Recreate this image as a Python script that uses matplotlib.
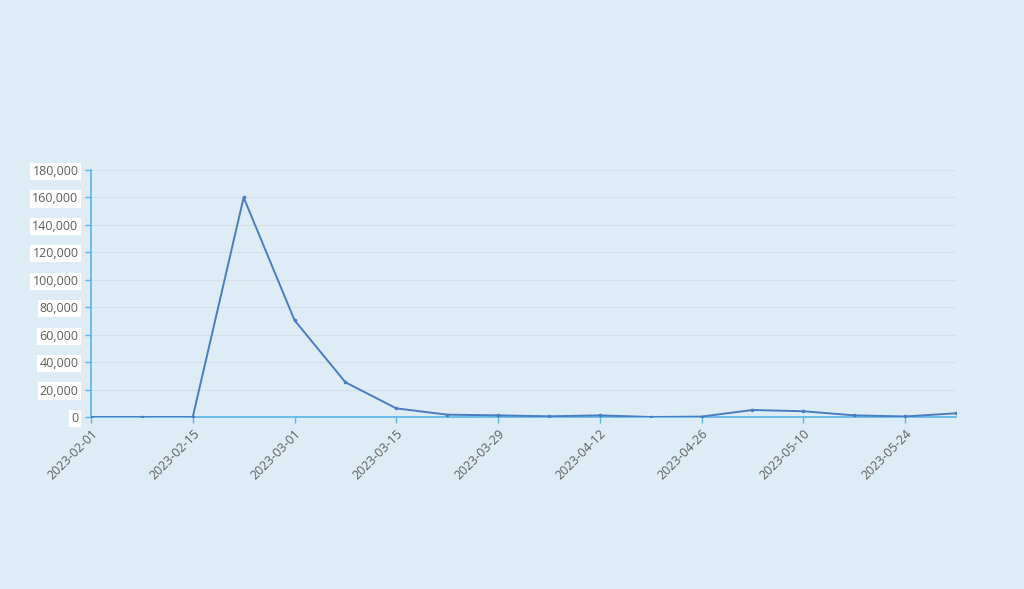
import matplotlib
matplotlib.use("Agg")
import matplotlib.pyplot as plt
import matplotlib.dates as mdates
import matplotlib.ticker as mticker
import numpy as np
import pandas as pd

dates = pd.date_range("2023-02-01", "2023-05-31", freq="7D")
values = [0, 0, 0, 160000, 70500, 25300, 6300, 1700, 1200, 500, 1200, 0,
          300, 5100, 4200, 1200, 400, 2700]
tick_dates = pd.date_range("2023-02-01", "2023-05-24", freq="14D")

bg = "#deedf5"
plt.rcParams['font.family'] = ['Open Sans', 'DejaVu Sans']

fig = plt.figure(figsize=(10.24, 5.89), dpi=100, facecolor=bg)
ax = fig.add_axes([91/1024, 1-417/589, (956-91)/1024, (417-170)/589])
ax.set_facecolor(bg)

ax.plot(dates, values, color="#4a7cc0", lw=1.4, marker="o", ms=1.6, zorder=3)

ax.set_xlim(dates[0], dates[-1])
ax.set_ylim(0, 180000)
ax.yaxis.set_major_locator(mticker.MultipleLocator(20000))
ax.yaxis.set_major_formatter(mticker.FuncFormatter(lambda v, p: f"{int(v):,}"))
ax.set_xticks(tick_dates)
ax.xaxis.set_major_formatter(mdates.DateFormatter("%Y-%m-%d"))

ax.grid(axis="y", color="#d5dfe6", lw=0.8)
ax.set_axisbelow(True)
for s in ["top", "right"]:
    ax.spines[s].set_visible(False)
for s in ["left", "bottom"]:
    ax.spines[s].set_color("#5ab4e5")
    ax.spines[s].set_linewidth(1.2)

ax.tick_params(axis="both", colors="#5ab4e5", length=4, width=1, labelcolor="#5f5f5f", labelsize=9)
ax.tick_params(axis="y", pad=5)
ax.tick_params(axis="x", pad=3)
for lbl in ax.get_yticklabels():
    lbl.set_bbox(dict(facecolor="white", edgecolor="none", pad=1.5))
for lbl in ax.get_xticklabels():
    lbl.set_rotation(45)
    lbl.set_ha("right")
    lbl.set_rotation_mode("anchor")

fig.savefig("out.png", dpi=100, facecolor=bg)
